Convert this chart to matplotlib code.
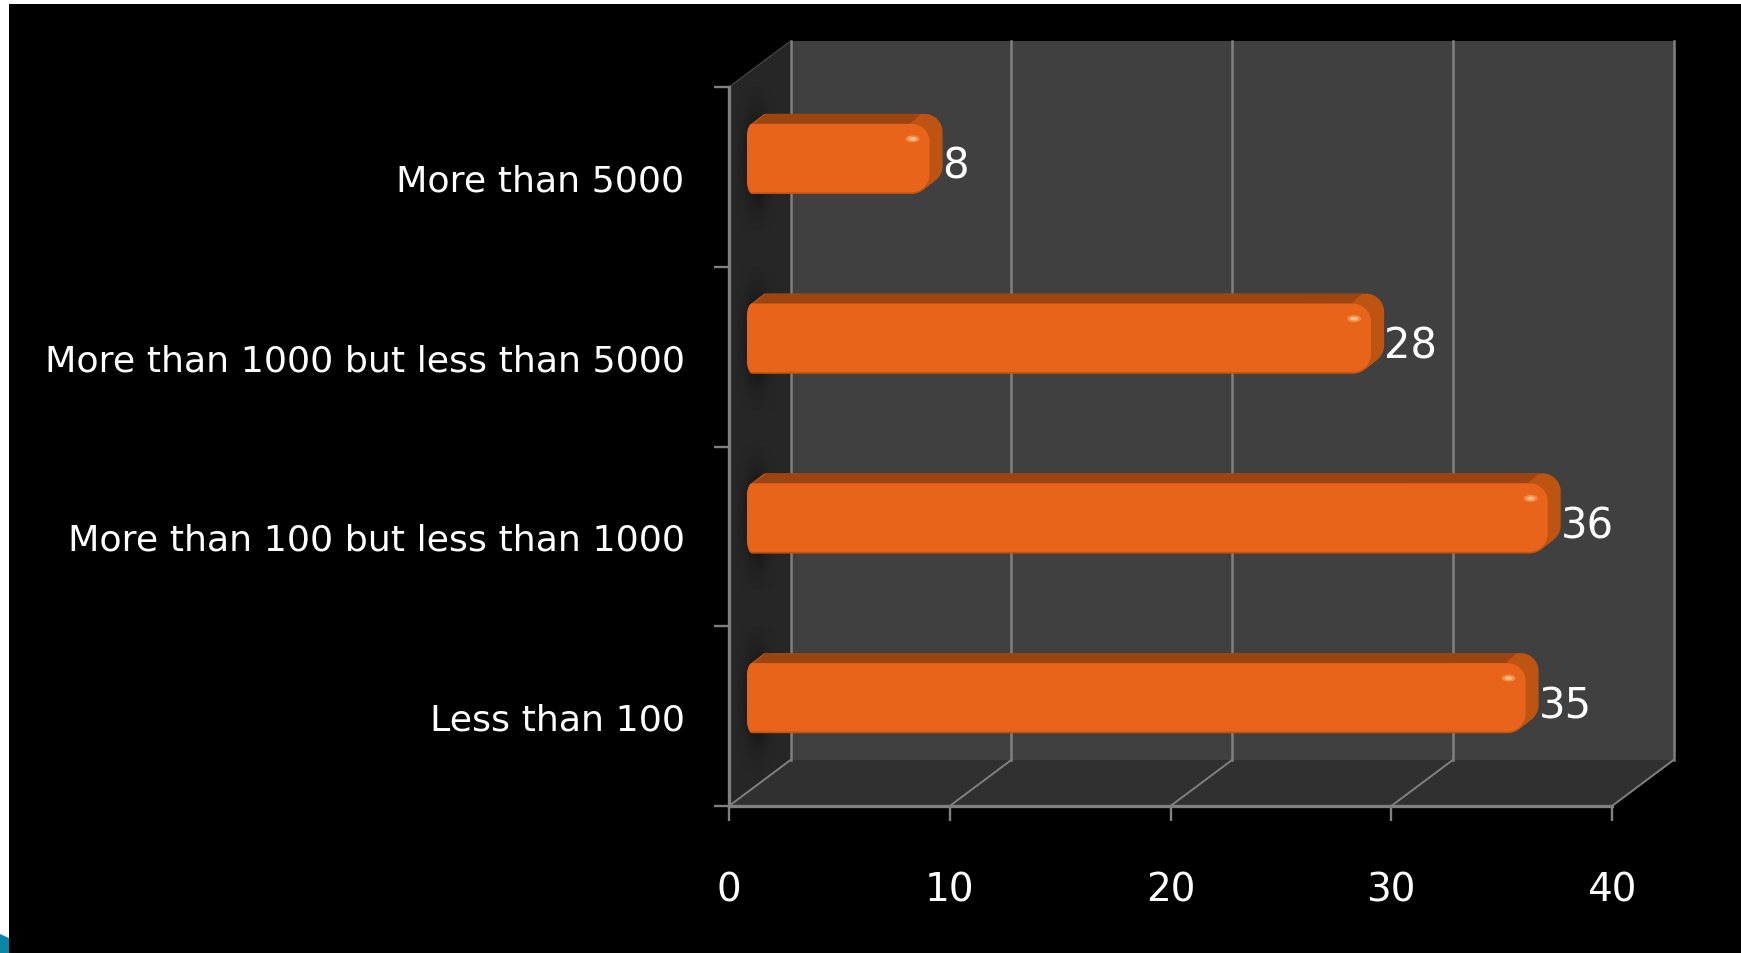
import matplotlib
matplotlib.use("Agg")
import matplotlib.pyplot as plt
import numpy as np
from matplotlib.patches import Ellipse, PathPatch, Polygon, Rectangle
from matplotlib.path import Path

categories = ["Less than 100", "More than 100 but less than 1000",
              "More than 1000 but less than 5000", "More than 5000"]
values = [35, 36, 28, 8]
x_ticks = [0, 10, 20, 30, 40]

W, H = 1741, 954
# front plane of the fake 3d box, in pixels
LEFT, RIGHT, TOP, BOTTOM = 729, 1612, 88, 807
sx = (RIGHT - LEFT) / 40
sy = (BOTTOM - TOP) / 4


def px(dx=0, dy=0):
    # pixel offset to data units, dy counts upward
    return dx / sx, dy / sy


def rounded(x0, x1, y0, y1, rx, ry, lx, ly):
    # rx, ry corners on the right, lx, ly corners on the left
    k = 0.55
    verts = [(x0 + lx, y0), (x1 - rx, y0),
             (x1 - rx + k * rx, y0), (x1, y0 + ry - k * ry), (x1, y0 + ry),
             (x1, y1 - ry),
             (x1, y1 - ry + k * ry), (x1 - rx + k * rx, y1), (x1 - rx, y1),
             (x0 + lx, y1),
             (x0 + lx - k * lx, y1), (x0, y1 - ly + k * ly), (x0, y1 - ly),
             (x0, y0 + ly),
             (x0, y0 + ly - k * ly), (x0 + lx - k * lx, y0), (x0 + lx, y0),
             (x0 + lx, y0)]
    codes = [Path.MOVETO, Path.LINETO] + [Path.CURVE4] * 3 + [Path.LINETO] + [Path.CURVE4] * 3 \
        + [Path.LINETO] + [Path.CURVE4] * 3 + [Path.LINETO] + [Path.CURVE4] * 3 + [Path.CLOSEPOLY]
    return Path(verts, codes)


fig = plt.figure(figsize=(W / 100, H / 100), dpi=100, facecolor="white")
fig.add_artist(Rectangle((9 / W, 0), 1 - 9 / W, 1 - 5 / H, transform=fig.transFigure,
                         facecolor="black", edgecolor="none", zorder=-5))
fig.add_artist(Polygon([(0, 0), (9 / W, 0), (9 / W, 15 / H), (0, 19 / H)],
                       transform=fig.transFigure, facecolor="#0b86a6", edgecolor="none"))

ax = fig.add_axes([LEFT / W, 1 - BOTTOM / H, (RIGHT - LEFT) / W, (BOTTOM - TOP) / H])
ax.set_xlim(0, 40)
ax.set_ylim(0, 4)
ax.patch.set_alpha(0)
for s in ["top", "right"]:
    ax.spines[s].set_visible(False)
for s in ["left", "bottom"]:
    ax.spines[s].set_color("#808080")
    ax.spines[s].set_linewidth(2.4)
    ax.spines[s].set_zorder(6)

bx, by = px(61.5, 46)

# walls
wall = Polygon([(bx, by), (40 + bx, by), (40 + bx, 4 + by), (bx, 4 + by)], facecolor="#404040",
               edgecolor="none", clip_on=False, zorder=1)
side = Polygon([(0, 0), (bx, by), (bx, 4 + by), (0, 4)], facecolor="#262626",
               edgecolor="none", clip_on=False, zorder=1)
floor = Polygon([(0, 0), (40, 0), (40 + bx, by), (bx, by)], facecolor="#303030",
                edgecolor="none", clip_on=False, zorder=1)
for p in [wall, side, floor]:
    ax.add_patch(p)

# grid lines
for t in x_ticks:
    ax.plot([t + bx, t + bx], [by, 4 + by], color="#808080", lw=1.8, clip_on=False, zorder=2)
    ax.plot([t, t + bx], [0, by], color="#808080", lw=1.4, clip_on=False, zorder=2)
ax.plot([0, bx], [4, 4 + by], color="#4a4a4a", lw=0.8, clip_on=False, zorder=2)

# bars
fx, fy = px(24, 18)      # front face sits this far into the box
dx, dy = px(13, 10)      # depth of the bar
half = 35 / sy
left_ext = px(6)[0]
rx, ry = px(18, 18)
lx, ly = px(5, 14)

for i, v in enumerate(values):
    yc = i + 0.5 + fy
    x0, x1 = fx - left_ext, fx + v
    y0, y1 = yc - half, yc + half

    # shadow the bar drops on the side wall
    gx = np.linspace(-1, 1, 60)
    gy = np.linspace(-1, 1, 120)
    gg = np.exp(-(gx[None, :] ** 2 + gy[:, None] ** 2) * 3.2)
    rgba = np.zeros((120, 60, 4))
    rgba[..., 3] = gg * 0.75
    im = ax.imshow(rgba, extent=[px(8)[0], px(48)[0], yc - 0.4, yc + 0.4], origin="lower",
                   aspect="auto", zorder=2.5, clip_on=False)
    im.set_clip_path(side)

    # swept body
    for t in np.linspace(1, 0, 14):
        ax.add_patch(PathPatch(rounded(x0 + t * dx, x1 + t * dx, y0 + t * dy, y1 + t * dy, rx, ry, lx, ly),
                               facecolor="#bd5412", edgecolor="none", clip_on=False, zorder=3))
    ax.add_patch(Polygon([(x0 + px(3)[0], y1 - px(0, 3)[1]), (x0 + px(6)[0] + dx, y1 + dy),
                          (x1 - rx + dx * 0.7, y1 + dy), (x1 - rx - px(2)[0], y1)],
                         facecolor="#9c4512", edgecolor="none", clip_on=False, zorder=3.5))
    # front face, darker edge below
    ax.add_patch(PathPatch(rounded(x0, x1, y0, y1, rx, ry, lx, ly), facecolor="#c2530f",
                           edgecolor="none", clip_on=False, zorder=4))
    ax.add_patch(PathPatch(rounded(x0, x1, y0 + px(0, 1.5)[1], y1, rx, ry, lx, ly), facecolor="#e8641b",
                           edgecolor="none", clip_on=False, zorder=4.2))
    ax.add_patch(Ellipse((x1 - px(17)[0], y1 - px(0, 15)[1]), px(14)[0], px(0, 7)[1],
                         facecolor="#f58a45", edgecolor="none", clip_on=False, zorder=4.5))
    ax.add_patch(Ellipse((x1 - px(17)[0], y1 - px(0, 15)[1]), px(8)[0], px(0, 3.5)[1],
                         facecolor="#ffc090", edgecolor="none", clip_on=False, zorder=4.6))

    ax.text(x1 + dx, yc - px(0, 7)[1], str(v), color="white", fontsize=30,
            ha="left", va="center", zorder=5, clip_on=False)

# axis ticks and labels
ax.set_xticks(x_ticks)
ax.set_xticklabels([str(t) for t in x_ticks], fontsize=28)
ax.tick_params(axis="x", length=10.8, width=1.7, color="#808080", labelcolor="white", pad=36)
ax.set_yticks(range(5))
ax.set_yticklabels([])
ax.set_yticks(np.arange(4) + 0.5, minor=True)
ax.set_yticklabels(categories, minor=True, fontsize=26.2)
ax.tick_params(axis="y", which="major", length=10.8, width=1.7, color="#808080")
ax.tick_params(axis="y", which="minor", length=0, labelcolor="white", pad=32)

fig.savefig("out.png", dpi=100, facecolor=fig.get_facecolor())
